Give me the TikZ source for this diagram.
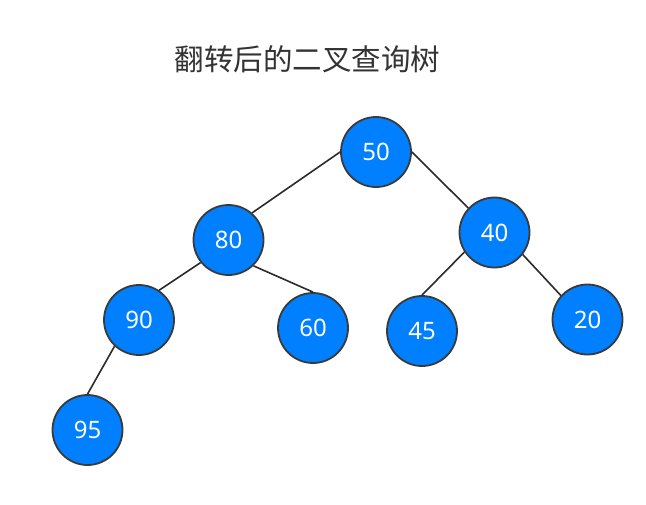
\documentclass[tikz,border=0pt]{standalone}
\usepackage{fontspec}
\setmainfont{Noto Sans}
\newfontfamily\cjk{Noto Sans CJK SC}
\definecolor{nodefill}{HTML}{007FFF}
\definecolor{nodeline}{HTML}{3A3A3A}
\definecolor{edgeline}{HTML}{2B2B2B}
\definecolor{titlecol}{HTML}{333333}
\begin{document}
\begin{tikzpicture}[x=1pt,y=-1pt,
  treenode/.style={circle,draw=nodeline,fill=nodefill,line width=1.8pt,minimum size=70pt,inner sep=0pt,text=white,font=\fontsize{24}{28}\selectfont},
  treeedge/.style={draw=edgeline,line width=1.6pt}]
\useasboundingbox[fill=white] (0,0) rectangle (646,504);
\node[font=\cjk\fontsize{29.5}{34}\selectfont,text=titlecol] (title) at (307.5,59) {翻转后的二叉查询树};
\node[treenode] (n50) at (376,152) {50};
\node[treenode] (n80) at (228.5,240) {80};
\node[treenode] (n40) at (494.5,232.5) {40};
\node[treenode] (n90) at (139,320) {90};
\node[treenode] (n60) at (313,328) {60};
\node[treenode] (n45) at (422,331) {45};
\node[treenode] (n20) at (587.5,319.5) {20};
\node[treenode] (n95) at (87.5,430) {95};
\draw[treeedge] (n50.180) -- (n80.49);
\draw[treeedge] (n50.0) -- (n40.137);
\draw[treeedge] (n80.219) -- (n90.56);
\draw[treeedge] (n80.314) -- (n60.90);
\draw[treeedge] (n90.227) -- (n95.90);
\draw[treeedge] (n40.213) -- (n45.90);
\draw[treeedge] (n40.322) -- (n20.138);
\end{tikzpicture}
\end{document}
